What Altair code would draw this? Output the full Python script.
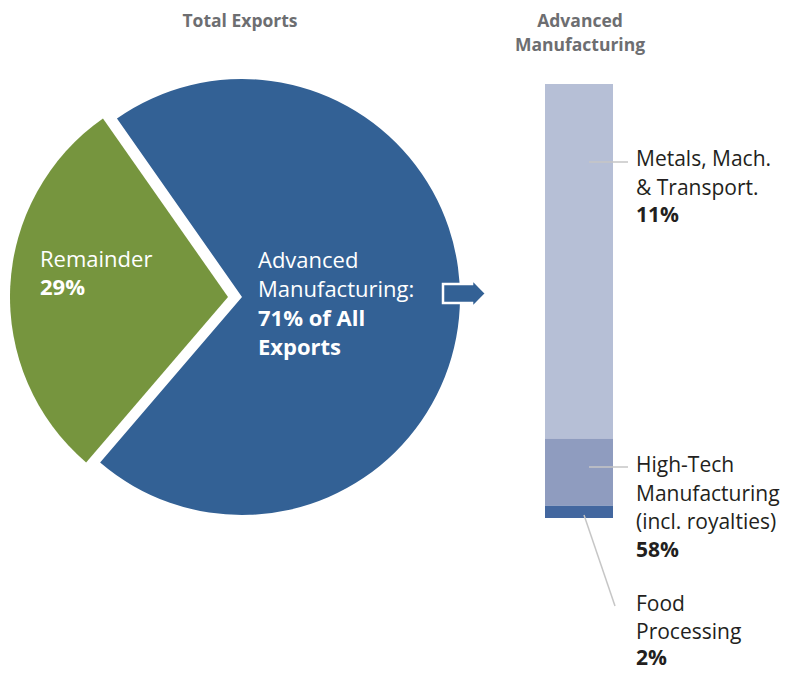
import math
import altair as alt
import pandas as pd

# ---------------- data ----------------
pie_categories = ["Advanced Manufacturing", "Remainder"]
pie_shares = [71, 29]
pie_colors = ["#336195", "#76953E"]

# stacked bar, listed top to bottom (segment sizes as drawn)
bar_group = "Advanced Manufacturing"
bar_segments = ["Metals, Mach. & Transport.", "High-Tech Manufacturing (incl. royalties)", "Food Processing"]
bar_values = [58, 11, 2]
bar_colors = ["#B6BFD6", "#8F9CBF", "#43679F"]
bar_label_lines = ["Metals, Mach.\n& Transport.", "High-Tech\nManufacturing\n(incl. royalties)", "Food\nProcessing"]
bar_label_pcts = ["11%", "58%", "2%"]

pie_label_lines = ["Advanced\nManufacturing:", "Remainder"]
pie_label_pcts = ["71% of All\nExports", "29%"]

titles = ["Total Exports", "Advanced\nManufacturing"]

# ---------------- layout helpers ----------------
OFF = 8
W, H = 777, 663


def px(v):
    return v - OFF


FONT = "Open Sans"
DARK = "#231F20"
GREY = "#6D6E71"


def text_layer(text, x, y, size, bold=False, color=DARK, align="left", lh=28.5):
    return alt.Chart(pd.DataFrame({"t": [text]})).mark_text(
        align=align, baseline="alphabetic", font=FONT, fontSize=size,
        fontWeight="bold" if bold else "normal", color=color,
        lineBreak="\n", lineHeight=lh,
    ).encode(text="t:N", x=alt.value(px(x)), y=alt.value(px(y)))


def rule_layer(x1, y1, x2, y2):
    return alt.Chart(pd.DataFrame({"a": [0]})).mark_rule(
        color="#C6C6C6", strokeWidth=1.5
    ).encode(x=alt.value(px(x1)), y=alt.value(px(y1)),
             x2=alt.value(px(x2)), y2=alt.value(px(y2)))


# ---------------- pie ----------------
pie_df = pd.DataFrame({"category": pie_categories, "share": pie_shares,
                       "ord": list(range(len(pie_categories)))})
start = math.radians(-35)
theta = alt.Theta("share:Q", stack=True,
                  scale=alt.Scale(domain=[0, 100], range=[start, start + 2 * math.pi]))
pie_color = alt.Color("category:N", scale=alt.Scale(domain=pie_categories, range=pie_colors),
                      legend=None)


def pie_layer(show, cx, cy):
    return alt.Chart(pie_df).mark_arc(radius=218).encode(
        theta=theta,
        order=alt.Order("ord:Q"),
        color=pie_color,
        opacity=alt.condition(alt.datum.category == show, alt.value(1), alt.value(0)),
        x=alt.value(px(cx)), y=alt.value(px(cy)),
    )


pie_main = pie_layer(pie_categories[0], 242, 297)
pie_explode = pie_layer(pie_categories[1], 228, 297)

arrow_path = "M-1,-0.44L0.35,-0.44L0.35,-0.674L1,0L0.35,0.674L0.35,0.44L-1,0.44Z"
arrow = alt.Chart(pd.DataFrame({"a": [0]})).mark_point(
    shape=arrow_path, size=1849, filled=True, fill=pie_colors[0], opacity=1,
    stroke="white", strokeWidth=2.5, strokeJoin="miter",
).encode(x=alt.value(px(464.5)), y=alt.value(px(293.5)))

# ---------------- bar ----------------
bar_df = pd.DataFrame({"group": [bar_group] * len(bar_segments),
                       "segment": bar_segments, "value": bar_values,
                       "pos": list(range(len(bar_segments)))[::-1]})
bar = alt.Chart(bar_df).mark_bar().encode(
    x=alt.X("group:N", axis=None,
            scale=alt.Scale(range=[px(545), px(613)], paddingInner=0, paddingOuter=0)),
    y=alt.Y("value:Q", stack="zero",
            scale=alt.Scale(domain=[0, sum(bar_values)], range=[px(518), px(84)]),
            axis=None),
    color=alt.Color("segment:N", scale=alt.Scale(domain=bar_segments, range=bar_colors),
                    legend=None),
    order=alt.Order("pos:Q"),
)

# ---------------- annotations ----------------
RS = 21
layers = [
    pie_main, pie_explode, arrow, bar,
    text_layer(titles[0], 240, 27, 17.5, bold=True, color=GREY, align="center"),
    text_layer(titles[1], 580, 27, 17.5, bold=True, color=GREY, align="center", lh=23.5),
    text_layer(pie_label_lines[0], 258, 268, 22, color="white"),
    text_layer(pie_label_pcts[0], 258, 326, 22, bold=True, color="white"),
    text_layer(pie_label_lines[1], 40, 267, 22, color="white"),
    text_layer(pie_label_pcts[1], 40, 295, 22, bold=True, color="white"),
    rule_layer(589, 162, 628, 162),
    rule_layer(589, 467, 628, 467),
    rule_layer(584, 515, 615, 606),
    text_layer(bar_label_lines[0], 636, 166, RS),
    text_layer(bar_label_pcts[0], 636, 222, RS, bold=True),
    text_layer(bar_label_lines[1], 636, 472, RS),
    text_layer(bar_label_pcts[1], 636, 557, RS, bold=True),
    text_layer(bar_label_lines[2], 636, 611, RS, lh=27.5),
    text_layer(bar_label_pcts[2], 636, 665, RS, bold=True),
]

chart = alt.layer(*layers).resolve_scale(color="independent").properties(
    width=W, height=H, autosize=alt.AutoSizeParams(type="none"), padding=0,
).configure_view(stroke=None)

chart.save("out.html", embed_options={"renderer": "svg", "actions": False})
